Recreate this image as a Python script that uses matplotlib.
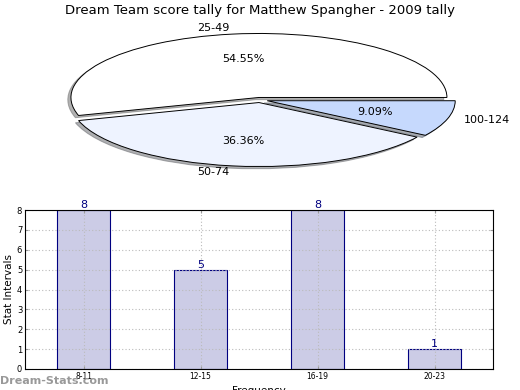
import matplotlib
matplotlib.use('Agg')
import matplotlib.pyplot as plt

# Dane
pie_labels = ['25-49', '50-74', '100-124']
pie_values = [6, 4, 1]
pie_colors = ['#ffffff', '#eef3ff', '#c6d9fd']

bar_labels = ['8-11', '12-15', '16-19', '20-23']
bar_values = [8, 5, 8, 1]

fig = plt.figure(figsize=(5.2, 3.9), dpi=100)

# Wykres kołowy (spłaszczony)
ax_pie = fig.add_axes([0, 0, 1, 1])
wedges, texts, autotexts = ax_pie.pie(
    pie_values, labels=pie_labels, colors=pie_colors, autopct='%.2f%%',
    explode=[0.04, 0.04, 0.04],
    shadow=dict(ox=-0.012, oy=-0.025, shade=0.6),
    startangle=0, labeldistance=1.09,
    wedgeprops=dict(edgecolor='black', linewidth=0.7),
    textprops=dict(fontsize=8))
ax_pie.set_aspect('auto')
ax_pie.set_xlim(-260 / 188, 260 / 188)
ax_pie.set_ylim(-290 / 64, 100 / 64)
ax_pie.axis('off')

fig.text(0.5, 0.972, 'Dream Team score tally for Matthew Spangher - 2009 tally',
         ha='center', va='center', fontsize=9.5)

# Wykres słupkowy
ax = fig.add_axes([25 / 520, 1 - 369 / 390, 468 / 520, 159 / 390])
x = range(len(bar_values))
ax.bar(x, bar_values, width=0.45, color='#ccccE6', edgecolor='#000080',
       linewidth=0.8, zorder=2)
for xi, v in zip(x, bar_values):
    ax.text(xi, v, str(v), ha='center', va='bottom', color='#000080', fontsize=8)
ax.set_xlim(-0.5, 3.5)
ax.set_ylim(0, 8)
ax.set_xticks(list(x))
ax.set_xticklabels(bar_labels, fontsize=5.5)
ax.set_yticks(range(0, 9))
ax.tick_params(axis='y', labelsize=6)
ax.tick_params(direction='in', right=True, top=True, length=2, pad=2,
               color='#999999')
ax.grid(True, linestyle=(0, (1, 2)), color='#bbbbbb', linewidth=0.8, zorder=0)
ax.set_axisbelow(False)
for s in ax.spines.values():
    s.set_zorder(5)
ax.set_ylabel('Stat Intervals', fontsize=7.5, labelpad=2)
ax.set_xlabel('Frequency', fontsize=7.5, labelpad=4)

fig.text(0.0, 0.024, 'Dream-Stats.com', ha='left', va='center', fontsize=8,
         color='#999999', fontweight='bold')

fig.savefig('out.png', dpi=100)
